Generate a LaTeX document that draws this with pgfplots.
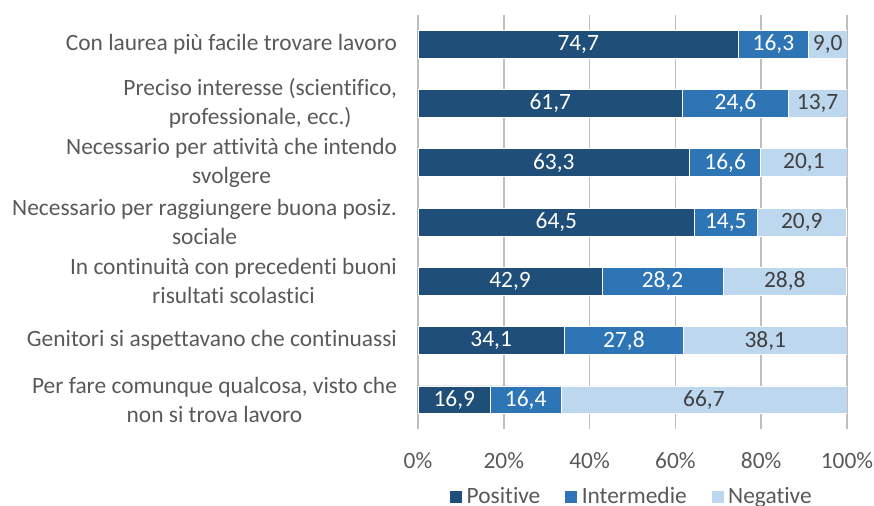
\documentclass[border=0pt]{standalone}
\usepackage{fontspec}
\setmainfont{Carlito}[Ligatures=NoCommon]
\usepackage{pgfplots}
\usepackage{pgfplotstable}
\pgfplotsset{compat=1.18}

\definecolor{cpos}{HTML}{1F4E79}
\definecolor{cint}{HTML}{2E75B6}
\definecolor{cneg}{HTML}{BDD7EE}
\definecolor{txt}{HTML}{595959}
\definecolor{lbl}{HTML}{404040}
\definecolor{grid}{HTML}{D9D9D9}

\pgfplotstableread{
y pos int neg
0 74.7 16.3 9.0
1 61.7 24.6 13.7
2 63.3 16.6 20.1
3 64.5 14.5 20.9
4 42.9 28.2 28.8
5 34.1 27.8 38.1
6 16.9 16.4 66.7
}\data

\pgfplotsset{
    common/.style={
        scale only axis,
        width=214.5pt, height=207.5pt,
        y dir=reverse,
        xmin=0, xmax=100,
        ymin=-0.5, ymax=6.5,
    },
}

\begin{document}
\begin{tikzpicture}
\begin{axis}[
    common,
    name=ax,
    xbar stacked,
    bar width=0.47,
    xtick={0,20,40,60,80,100},
    xticklabels={0\%,20\%,40\%,60\%,80\%,100\%},
    ytick={0,1,2,3,4,5,6},
    yticklabels={
        {Con laurea più facile trovare lavoro},
        {Preciso interesse (scientifico,\\professionale, ecc.)},
        {Necessario per attività che intendo\\svolgere},
        {Necessario per raggiungere buona posiz.\\sociale},
        {In continuità con precedenti buoni\\risultati scolastici},
        {Genitori si aspettavano che continuassi},
        {Per fare comunque qualcosa, visto che\\non si trova lavoro}},
    axis line style={draw=none},
    major tick length=0pt,
    xmajorgrids,
    grid style={grid, line width=0.75pt},
    tick label style={font=\fontsize{11.7}{14.5}\selectfont, text=txt},
    yticklabel style={align=center, xshift=-7pt},
    xticklabel style={yshift=-8pt},
    legend style={at={(0.5,-0.118)}, anchor=north, draw=none, legend columns=-1,
        font=\fontsize{11.7}{14}\selectfont, text=txt,
        /tikz/every even column/.append style={column sep=10pt}},
    legend image code/.code={\fill[#1] (0pt,-3.2pt) rectangle (6.4pt,3.2pt);},
]
\addplot[fill=cpos, draw=white, line width=0.3pt] table[x=pos, y=y] {\data};
\addlegendentry{Positive}
\addplot[fill=cint, draw=white, line width=0.3pt] table[x=int, y=y] {\data};
\addlegendentry{Intermedie}
\addplot[fill=cneg, draw=white, line width=0.3pt] table[x=neg, y=y] {\data};
\addlegendentry{Negative}
\end{axis}
% labels centred in each segment
\begin{axis}[
    common,
    hide axis,
    nodes near coords,
    nodes near coords align={center},
    point meta=explicit,
    /pgf/number format/.cd, fixed, fixed zerofill, precision=1, use comma, assume math mode=true,
    /pgfplots/.cd,
    every node near coord/.append style={font=\fontsize{11.7}{14}\selectfont, anchor=center},
]
\addplot[only marks, mark=none, nodes near coords style={text=white}]
    table[x expr=\thisrow{pos}/2, y=y, meta=pos] {\data};
\addplot[only marks, mark=none, nodes near coords style={text=white}]
    table[x expr=\thisrow{pos}+\thisrow{int}/2, y=y, meta=int] {\data};
\addplot[only marks, mark=none, nodes near coords style={text=lbl}]
    table[x expr=\thisrow{pos}+\thisrow{int}+\thisrow{neg}/2, y=y, meta=neg] {\data};
\end{axis}
\pgfresetboundingbox
\path (ax.south west) ++(-209pt,-38.2pt) coordinate (bl);
\path (ax.north east) ++(13.5pt,7.25pt) coordinate (tr);
\path (bl) rectangle (tr);
\end{tikzpicture}
\end{document}
